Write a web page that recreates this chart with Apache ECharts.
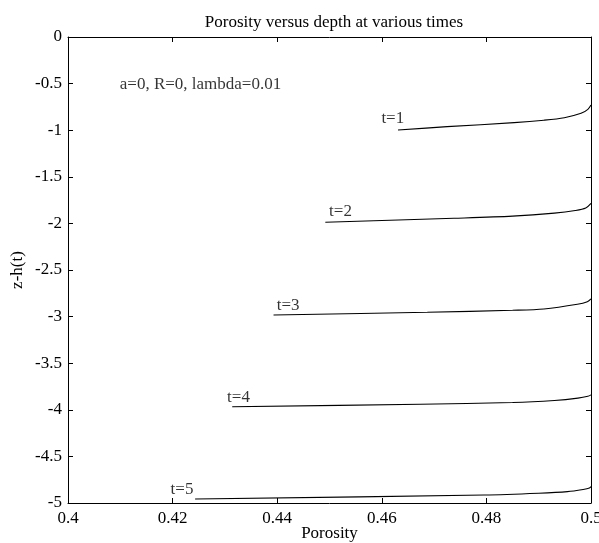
<!DOCTYPE html>
<html>
<head>
<meta charset="utf-8">
<script src="https://cdn.jsdelivr.net/npm/echarts@6/dist/echarts.min.js"></script>
<style>
  html, body { margin: 0; padding: 0; background: #fff; }
  #chart { width: 599px; height: 543px; }
</style>
</head>
<body>
<div id="chart"></div>
<script>
// porosity / depth samples, one pair of arrays per time
const t1Porosity = [0.4631, 0.4725, 0.4853, 0.4910, 0.4949, 0.4981, 0.4994, 0.5];
const t1Depth    = [-0.998, -0.962, -0.919, -0.893, -0.866, -0.819, -0.776, -0.73];
const t2Porosity = [0.4492, 0.4738, 0.4850, 0.4930, 0.4970, 0.4990, 0.5];
const t2Depth    = [-1.988, -1.945, -1.922, -1.890, -1.862, -1.835, -1.785];
const t3Porosity = [0.4393, 0.4687, 0.4850, 0.4910, 0.4974, 0.4993, 0.5];
const t3Depth    = [-2.983, -2.954, -2.932, -2.918, -2.868, -2.840, -2.81];
const t4Porosity = [0.4314, 0.4674, 0.4850, 0.4930, 0.4975, 0.4994, 0.5];
const t4Depth    = [-3.967, -3.940, -3.922, -3.900, -3.875, -3.855, -3.84];
const t5Porosity = [0.4243, 0.4796, 0.4900, 0.4955, 0.4985, 0.4997, 0.5];
const t5Depth    = [-4.957, -4.914, -4.895, -4.878, -4.855, -4.840, -4.825];

const curveNames = ['t=1', 't=2', 't=3', 't=4', 't=5'];
const labelPorosity = [0.4621, 0.4521, 0.4421, 0.4326, 0.4218];
const labelDepth    = [-0.87, -1.878, -2.876, -3.873, -4.86];

const noteText = 'a=0, R=0, lambda=0.01';
const notePos = [0.4099, -0.515];

const font = 'Liberation Serif';
const fs = 17;

const curves = [
  [t1Porosity, t1Depth],
  [t2Porosity, t2Depth],
  [t3Porosity, t3Depth],
  [t4Porosity, t4Depth],
  [t5Porosity, t5Depth]
];

function pairs(xs, ys) {
  return xs.map((x, i) => [x, ys[i]]);
}

const lineSeries = curves.map((c, i) => ({
  name: curveNames[i],
  type: 'line',
  data: pairs(c[0], c[1]),
  smooth: 0.3,
  symbol: 'none',
  lineStyle: { color: '#000', width: 1.1 },
  silent: true
}));

const axisCommon = {
  type: 'value',
  axisLine: { show: true, onZero: false, lineStyle: { color: '#000', width: 1 } },
  axisTick: { show: true, inside: true, length: 5, lineStyle: { color: '#000' } },
  splitLine: { show: false }
};

const chart = echarts.init(document.getElementById('chart'));
chart.setOption({
  animation: false,
  backgroundColor: '#fff',
  title: {
    text: 'Porosity versus depth at various times',
    left: 329, top: 9, textAlign: 'center',
    textStyle: { fontFamily: font, fontSize: fs, fontWeight: 'normal', color: '#000' }
  },
  grid: { left: 68, right: 8, top: 37, bottom: 40, outerBoundsMode: 'none', containLabel: false },
  xAxis: [
    Object.assign({}, axisCommon, {
      min: 0.4, max: 0.5, interval: 0.02, position: 'bottom',
      name: 'Porosity', nameLocation: 'middle', nameGap: 22, nameMoveOverlap: false,
      nameTextStyle: { fontFamily: font, fontSize: fs, color: '#000' },
      axisLabel: { fontFamily: font, fontSize: fs, color: '#000', margin: 7 }
    }),
    Object.assign({}, axisCommon, {
      min: 0.4, max: 0.5, interval: 0.02, position: 'top',
      axisLabel: { show: false }
    })
  ],
  yAxis: [
    Object.assign({}, axisCommon, {
      min: -5, max: 0, interval: 0.5, position: 'left',
      name: 'z-h(t)', nameLocation: 'middle', nameGap: 42, nameRotate: 90, nameMoveOverlap: false,
      nameTextStyle: { fontFamily: font, fontSize: fs, color: '#000' },
      axisLabel: { fontFamily: font, fontSize: fs, color: '#000', margin: 6 }
    }),
    Object.assign({}, axisCommon, {
      min: -5, max: 0, interval: 0.5, position: 'right',
      axisLabel: { show: false }
    })
  ],
  series: lineSeries.concat([
    {
      type: 'scatter',
      symbolSize: 0,
      silent: true,
      data: labelPorosity.map((x, i) => ({ value: [x, labelDepth[i]], name: curveNames[i] })),
      label: {
        show: true, position: 'inside', formatter: '{b}',
        fontFamily: font, fontSize: fs, color: '#000'
      }
    },
    {
      type: 'scatter',
      symbolSize: 0,
      silent: true,
      data: [{ value: notePos, name: noteText }],
      label: {
        show: true, position: 'right', distance: 0, formatter: '{b}',
        fontFamily: font, fontSize: fs, color: '#000'
      }
    }
  ])
});
</script>
</body>
</html>
